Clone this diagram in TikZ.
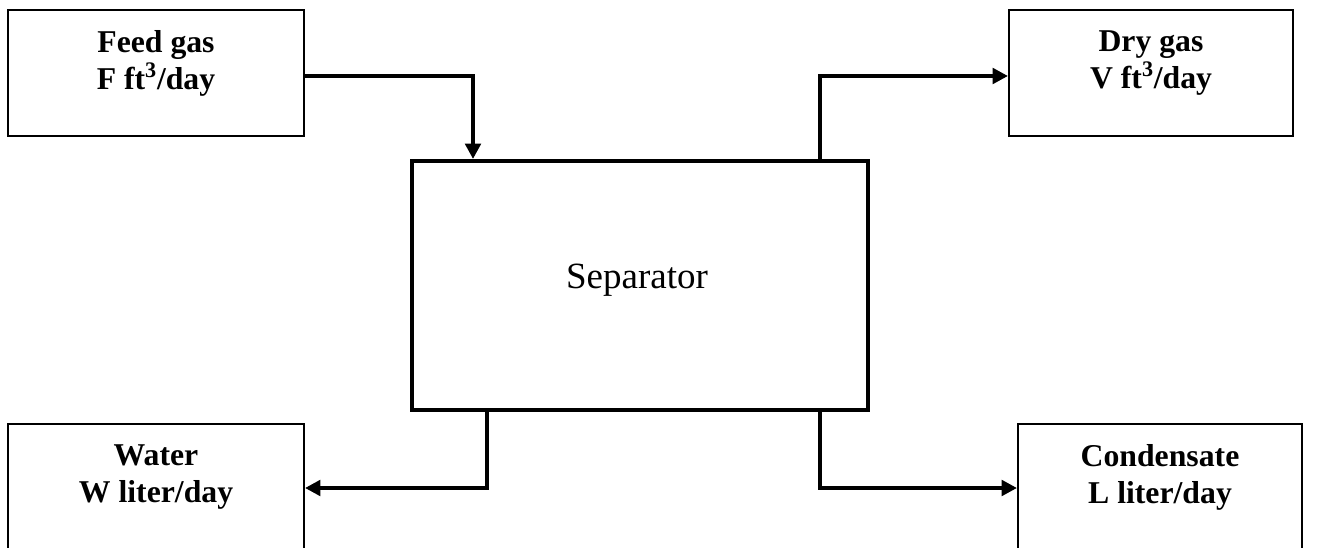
\documentclass[tikz,border=0pt]{standalone}
\usepackage{fontspec}
\setmainfont{Liberation Serif}
\usetikzlibrary{arrows.meta,calc}
\begin{document}
\begin{tikzpicture}[x=0.75pt,y=-0.75pt,
  box/.style={draw=black,line width=1.5pt,inner sep=0pt,minimum width=#1,rectangle},
  lbl/.style={anchor=north,inner sep=0pt,align=center,font=\bfseries\fontsize{23.8pt}{27.8pt}\selectfont},
  flow/.style={line width=3pt,-{Triangle[length=11.5pt,width=11.5pt]}}]
\useasboundingbox (0,0) rectangle (1323,548);
\clip (0,0) rectangle (1323,548);
% boxes
\node[box=222pt,minimum height=94.5pt] (feed) at (156,73) {};
\node[box=213pt,minimum height=94.5pt] (dry) at (1151,73) {};
\node[box=222pt,minimum height=150pt] (water) at (156,524) {};
\node[box=213pt,minimum height=150pt] (cond) at (1160,524) {};
\node[draw=black,line width=3pt,rectangle,minimum width=342pt,minimum height=186.75pt,inner sep=0pt] (sep) at (640,285.5) {};
% labels
\node[lbl] (feedt) at ($(feed.north)+(0,21)$) {Feed gas\\F ft\textsuperscript{3}/day};
\node[lbl] (dryt) at ($(dry.north)+(0,21)$) {Dry gas\\V ft\textsuperscript{3}/day};
\node[lbl] (watert) at ($(water.north)+(0,21)$) {Water\\W liter/day};
\node[lbl] (condt) at ($(cond.north)+(0,21)$) {Condensate\\L liter/day};
\node[inner sep=0pt,font=\fontsize{27.75pt}{33pt}\selectfont] (sept) at (637,280) {Separator};
% flows
\draw[flow] ($(feed.north east)+(0,67)$) -| ($(sep.north west)+(63,0)$);
\draw[flow] ($(sep.north west)+(410,0)$) |- ($(dry.north west)+(0,67)$);
\draw[flow] ($(sep.south west)+(77,0)$) |- ($(water.north east)+(0,65)$);
\draw[flow] ($(sep.south west)+(410,0)$) |- ($(cond.north west)+(0,65)$);
\end{tikzpicture}
\end{document}
